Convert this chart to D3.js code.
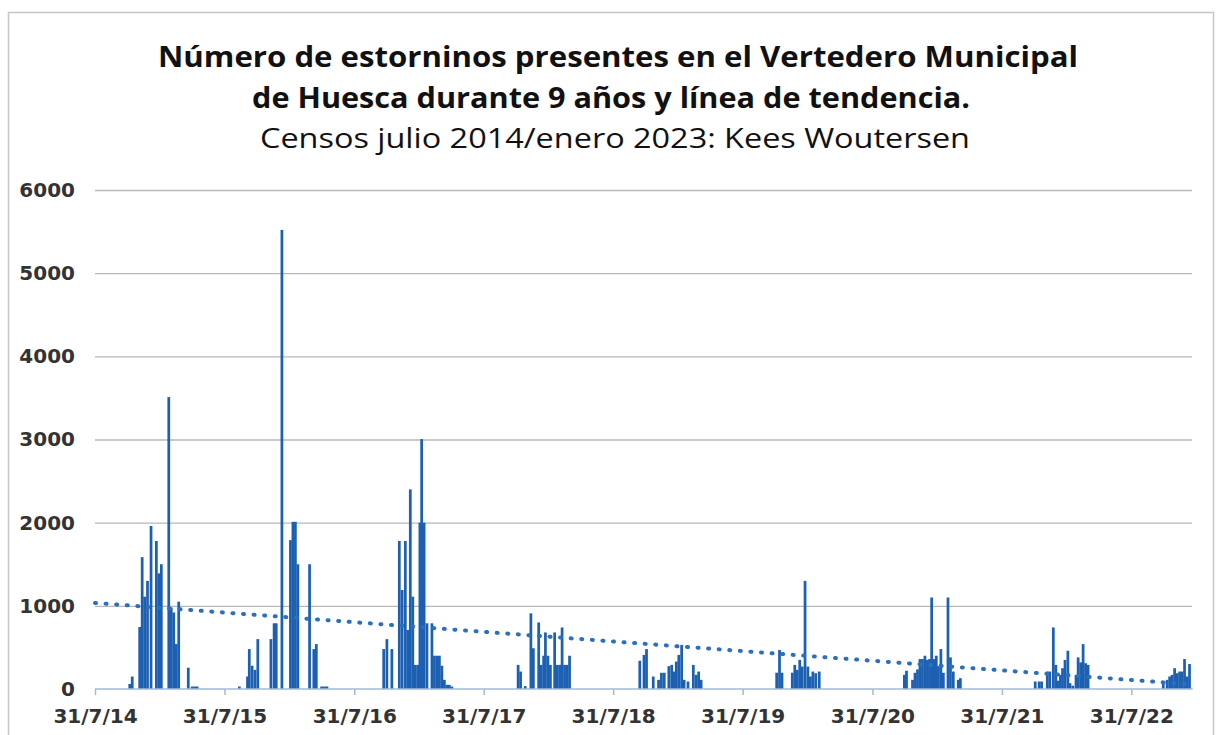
<!DOCTYPE html>
<html><head><meta charset="utf-8">
<script src="https://cdn.jsdelivr.net/npm/d3@7"></script>
<style>body{margin:0;background:#fff}svg{display:block}</style>
</head><body><svg id="c" width="1221" height="735"></svg>
<script>
// ---- data ----
const titleLines = ["Número de estorninos presentes en el Vertedero Municipal","de Huesca durante 9 años y línea de tendencia."];
const subtitle = "Censos julio 2014/enero 2023: Kees Woutersen";
const yTicks = [0,1000,2000,3000,4000,5000,6000];
const xTickDates = ["2014-07-31","2015-07-31","2016-07-31","2017-07-31","2018-07-31","2019-07-31","2020-07-31","2021-07-31","2022-07-31"];
const xTickLabels = ["31/7/14","31/7/15","31/7/16","31/7/17","31/7/18","31/7/19","31/7/20","31/7/21","31/7/22"];
const xDomain = ["2014-07-31","2023-01-20"];
const censusDates = [
 "2014-11-06","2014-11-13","2014-12-04","2014-12-11","2014-12-18","2014-12-26","2015-01-05","2015-01-20","2015-01-27","2015-02-03","2015-02-24","2015-03-03","2015-03-10","2015-03-17","2015-03-24","2015-04-20","2015-05-01","2015-05-08","2015-05-15",
 "2015-09-11","2015-10-04","2015-10-09","2015-10-17","2015-10-25","2015-11-02","2015-12-09","2015-12-18","2015-12-24","2016-01-09","2016-02-02","2016-02-09","2016-02-16","2016-02-23","2016-03-27","2016-04-08","2016-04-15","2016-04-30","2016-05-08","2016-05-15",
 "2016-10-22","2016-10-31","2016-11-14","2016-12-05","2016-12-13","2016-12-22","2016-12-29","2017-01-05","2017-01-12","2017-01-19","2017-01-26","2017-02-01","2017-02-06","2017-02-13","2017-02-21","2017-03-07","2017-03-14","2017-03-21","2017-03-28","2017-04-04","2017-04-11","2017-04-18","2017-04-25","2017-05-02",
 "2017-11-05","2017-11-12","2017-11-25","2017-12-11","2017-12-18","2018-01-02","2018-01-09","2018-01-16","2018-01-21","2018-01-28","2018-02-04","2018-02-16","2018-02-23","2018-03-02","2018-03-09","2018-03-16","2018-03-23","2018-03-30",
 "2018-10-14","2018-10-26","2018-11-02","2018-11-21","2018-12-06","2018-12-14","2018-12-22","2019-01-04","2019-01-12","2019-01-19","2019-01-25","2019-02-01","2019-02-09","2019-02-16","2019-02-27","2019-03-14","2019-03-22","2019-03-29","2019-04-05",
 "2019-11-04","2019-11-12","2019-11-19","2019-12-18","2019-12-25","2020-01-01","2020-01-08","2020-01-15","2020-01-23","2020-01-31","2020-02-07","2020-02-14","2020-02-22","2020-03-03",
 "2020-10-29","2020-11-04","2020-11-21","2020-11-28","2020-12-05","2020-12-12","2020-12-19","2020-12-26","2021-01-02","2021-01-08","2021-01-14","2021-01-20","2021-01-27","2021-02-02","2021-02-09","2021-02-16","2021-03-01","2021-03-08","2021-03-16","2021-03-30","2021-04-05",
 "2021-11-02","2021-11-13","2021-11-20","2021-12-06","2021-12-13","2021-12-23","2021-12-30","2022-01-06","2022-01-12","2022-01-18","2022-01-25","2022-02-02","2022-02-08","2022-02-16","2022-02-25","2022-03-03","2022-03-10","2022-03-17","2022-03-24","2022-03-31",
 "2022-10-29","2022-11-09","2022-11-16","2022-11-23","2022-11-30","2022-12-07","2022-12-14","2022-12-21","2022-12-28","2023-01-04","2023-01-11"
];
const starlings = [
 60,150,745,1585,1110,1300,1960,1780,1390,1500,3510,980,920,540,1050,256,30,30,30,
 30,150,480,280,230,600,600,790,790,5520,1790,2010,2010,1500,1500,480,540,30,30,30,
 480,600,480,1780,1190,1780,710,2400,1110,290,290,2000,3005,2000,790,790,400,400,400,280,110,50,50,30,
 290,210,35,910,490,800,290,400,680,400,290,680,290,290,740,290,290,400,
 340,410,480,150,110,195,195,275,290,210,330,410,530,110,90,290,170,210,110,
 196,470,196,196,290,230,350,270,1300,270,150,210,190,210,
 170,220,110,195,235,360,360,400,350,360,1100,360,400,275,480,195,1100,380,210,110,130,
 90,90,90,210,210,740,290,100,170,250,350,460,70,40,170,380,320,540,310,290,
 90,110,150,170,250,190,210,210,360,150,300
];
const trendDates = ["2014-07-31","2023-01-15"];
const trendValues = [1035,55];

// ---- chart ----
const parse = d3.timeParse("%Y-%m-%d");
const svg = d3.select("#c");
const x = d3.scaleTime().domain(xDomain.map(parse)).range([95, 1192.7]);
const y = d3.scaleLinear().domain([0, 6000]).range([689, 190]);

svg.append("rect").attr("x",8.5).attr("y",12.5).attr("width",1205).attr("height",740)
  .attr("fill","#fff").attr("stroke","#c6c6c6").attr("stroke-width",1.5);

// titles
const tl = [
 {t:titleLines[0], cx:618, y:67, w:920, weight:700, size:29},
 {t:titleLines[1], cx:611, y:108, w:718, weight:700, size:29},
 {t:subtitle, cx:615, y:148, w:710, weight:400, size:28}
];
svg.selectAll("text.title").data(tl).join("text").attr("class","title")
  .attr("x",d=>d.cx).attr("y",d=>d.y).attr("text-anchor","middle")
  .attr("font-family","'Open Sans', sans-serif").attr("font-weight",d=>d.weight)
  .attr("font-size",d=>d.size).attr("fill","#111")
  .attr("textLength",d=>d.w).attr("lengthAdjust","spacingAndGlyphs")
  .text(d=>d.t);

// gridlines + y labels
const yAxis = d3.axisLeft(y).tickValues(yTicks).tickSize(-(1192-95)).tickPadding(20).tickFormat(d3.format("d"));
const gy = svg.append("g").attr("transform","translate(95,0)").call(yAxis);
gy.select(".domain").remove();
gy.selectAll(".tick line").attr("stroke","#b8b8b8").attr("stroke-width",1.3);
gy.selectAll(".tick").filter(d=>d===0).select("line").remove();
gy.selectAll(".tick text").attr("font-family","'DejaVu Sans', sans-serif").attr("font-weight","bold")
  .attr("font-size",20).attr("fill","#333").attr("x",-20);

// bars
const bw = x(parse("2014-08-07")) - x(parse("2014-07-31"));
const bars = censusDates.map((d,i)=>({date:parse(d), v:starlings[i]}));
svg.append("g").selectAll("rect").data(bars).join("rect")
  .attr("x",d=>x(d.date)-bw*0.55).attr("width",bw*1.1)
  .attr("y",d=>y(d.v)).attr("height",d=>y(0)-y(d.v))
  .attr("fill","#1d60b2");

// x axis
const xAxis = d3.axisBottom(x).tickValues(xTickDates.map(parse)).tickSize(6).tickPadding(14)
  .tickFormat((d,i)=>xTickLabels[i]);
const gx = svg.append("g").attr("transform","translate(0,689)").call(xAxis);
gx.select(".domain").attr("stroke","#9dbbdb").attr("stroke-width",1.5).attr("d","M95,0H1192.7");
gx.selectAll(".tick line").attr("stroke","#9dbbdb").attr("stroke-width",1.5);
gx.selectAll(".tick text").attr("font-family","'DejaVu Sans', sans-serif").attr("font-weight","bold")
  .attr("font-size",20).attr("fill","#333");

// trend line
const trend = trendDates.map((d,i)=>({date:parse(d), v:trendValues[i]}));
svg.append("path").datum(trend)
  .attr("d", d3.line().x(d=>x(d.date)).y(d=>y(d.v)))
  .attr("fill","none").attr("stroke","#2a6fc0").attr("stroke-width",4)
  .attr("stroke-linecap","round").attr("stroke-dasharray","1 9.6");
</script></body></html>
